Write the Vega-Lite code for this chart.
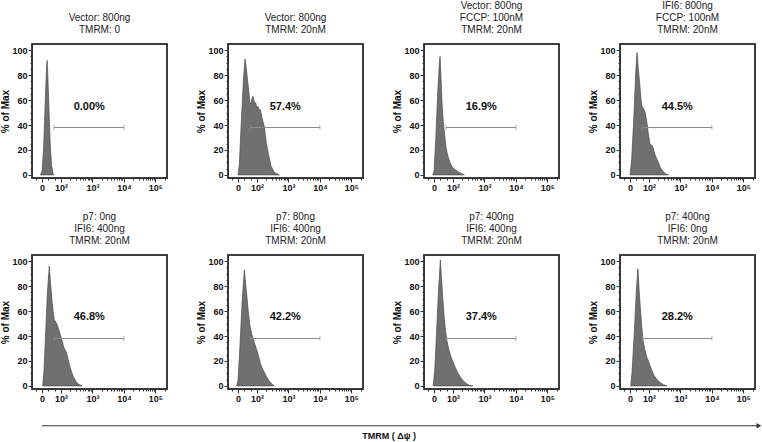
{
"$schema": "https://vega.github.io/schema/vega-lite/v6.json",
"padding": {"left": 0, "top": 0, "right": 0, "bottom": 0},
"background": "white",
"title": {"text": "TMRM ( Δψ )", "orient": "bottom", "anchor": "middle", "fontSize": 9, "fontWeight": "bold", "color": "#111", "offset": 3, "dx": 8},
"datasets": {
"hist": [
{"p":1,"u":-0.05,"y":0},{"p":1,"u":0.0,"y":3},{"p":1,"u":0.05,"y":22},{"p":1,"u":0.1,"y":58},{"p":1,"u":0.14,"y":85},{"p":1,"u":0.16,"y":92},{"p":1,"u":0.18,"y":82},{"p":1,"u":0.22,"y":52},{"p":1,"u":0.26,"y":24},{"p":1,"u":0.3,"y":8},{"p":1,"u":0.35,"y":1},{"p":1,"u":0.38,"y":0},
{"p":2,"u":0.0,"y":0},{"p":2,"u":0.04,"y":8},{"p":2,"u":0.1,"y":41},{"p":2,"u":0.17,"y":76},{"p":2,"u":0.22,"y":93},{"p":2,"u":0.25,"y":88},{"p":2,"u":0.29,"y":79},{"p":2,"u":0.34,"y":67},{"p":2,"u":0.38,"y":58},{"p":2,"u":0.41,"y":57},{"p":2,"u":0.44,"y":61},{"p":2,"u":0.47,"y":63},{"p":2,"u":0.49,"y":62},{"p":2,"u":0.53,"y":57},{"p":2,"u":0.56,"y":58},{"p":2,"u":0.59,"y":54},{"p":2,"u":0.63,"y":55},{"p":2,"u":0.66,"y":53},{"p":2,"u":0.71,"y":52},{"p":2,"u":0.76,"y":46},{"p":2,"u":0.8,"y":42},{"p":2,"u":0.84,"y":38},{"p":2,"u":0.89,"y":27},{"p":2,"u":0.96,"y":17},{"p":2,"u":1.05,"y":7},{"p":2,"u":1.15,"y":2},{"p":2,"u":1.31,"y":0},
{"p":3,"u":-0.04,"y":0},{"p":3,"u":0.0,"y":3},{"p":3,"u":0.06,"y":32},{"p":3,"u":0.12,"y":68},{"p":3,"u":0.17,"y":90},{"p":3,"u":0.19,"y":95},{"p":3,"u":0.22,"y":78},{"p":3,"u":0.25,"y":59},{"p":3,"u":0.28,"y":47},{"p":3,"u":0.31,"y":38},{"p":3,"u":0.35,"y":29},{"p":3,"u":0.38,"y":22},{"p":3,"u":0.43,"y":16},{"p":3,"u":0.49,"y":11},{"p":3,"u":0.56,"y":7},{"p":3,"u":0.65,"y":4.5},{"p":3,"u":0.8,"y":2},{"p":3,"u":0.96,"y":0},
{"p":4,"u":0.0,"y":0},{"p":4,"u":0.05,"y":12},{"p":4,"u":0.12,"y":46},{"p":4,"u":0.18,"y":82},{"p":4,"u":0.22,"y":98},{"p":4,"u":0.26,"y":86},{"p":4,"u":0.31,"y":72},{"p":4,"u":0.35,"y":60},{"p":4,"u":0.38,"y":55},{"p":4,"u":0.43,"y":53},{"p":4,"u":0.47,"y":51},{"p":4,"u":0.51,"y":46},{"p":4,"u":0.54,"y":41},{"p":4,"u":0.58,"y":33},{"p":4,"u":0.63,"y":25},{"p":4,"u":0.68,"y":24},{"p":4,"u":0.73,"y":22},{"p":4,"u":0.78,"y":17},{"p":4,"u":0.83,"y":14},{"p":4,"u":0.9,"y":10},{"p":4,"u":0.96,"y":6},{"p":4,"u":1.04,"y":3},{"p":4,"u":1.12,"y":1},{"p":4,"u":1.22,"y":0},
{"p":5,"u":0.02,"y":0},{"p":5,"u":0.06,"y":12},{"p":5,"u":0.11,"y":40},{"p":5,"u":0.17,"y":75},{"p":5,"u":0.23,"y":96},{"p":5,"u":0.27,"y":82},{"p":5,"u":0.32,"y":67},{"p":5,"u":0.36,"y":58},{"p":5,"u":0.39,"y":53},{"p":5,"u":0.44,"y":51},{"p":5,"u":0.48,"y":49},{"p":5,"u":0.53,"y":45},{"p":5,"u":0.58,"y":41},{"p":5,"u":0.64,"y":36},{"p":5,"u":0.69,"y":31},{"p":5,"u":0.73,"y":29},{"p":5,"u":0.77,"y":27},{"p":5,"u":0.83,"y":21},{"p":5,"u":0.88,"y":16},{"p":5,"u":0.94,"y":11},{"p":5,"u":1.0,"y":7},{"p":5,"u":1.08,"y":3.5},{"p":5,"u":1.16,"y":1.3},{"p":5,"u":1.27,"y":0},
{"p":6,"u":-0.04,"y":0},{"p":6,"u":0.0,"y":5},{"p":6,"u":0.06,"y":32},{"p":6,"u":0.13,"y":68},{"p":6,"u":0.2,"y":93},{"p":6,"u":0.24,"y":82},{"p":6,"u":0.29,"y":69},{"p":6,"u":0.33,"y":58},{"p":6,"u":0.38,"y":48},{"p":6,"u":0.43,"y":42},{"p":6,"u":0.49,"y":37},{"p":6,"u":0.54,"y":33},{"p":6,"u":0.59,"y":29},{"p":6,"u":0.64,"y":25},{"p":6,"u":0.7,"y":19},{"p":6,"u":0.74,"y":16},{"p":6,"u":0.79,"y":13},{"p":6,"u":0.84,"y":10.5},{"p":6,"u":0.91,"y":7},{"p":6,"u":0.99,"y":4},{"p":6,"u":1.07,"y":1.5},{"p":6,"u":1.15,"y":0},
{"p":7,"u":-0.03,"y":0},{"p":7,"u":0.02,"y":12},{"p":7,"u":0.08,"y":43},{"p":7,"u":0.14,"y":76},{"p":7,"u":0.2,"y":101},{"p":7,"u":0.24,"y":85},{"p":7,"u":0.28,"y":69},{"p":7,"u":0.32,"y":56},{"p":7,"u":0.36,"y":45},{"p":7,"u":0.41,"y":36},{"p":7,"u":0.47,"y":29},{"p":7,"u":0.53,"y":24},{"p":7,"u":0.59,"y":20},{"p":7,"u":0.67,"y":15},{"p":7,"u":0.75,"y":10.7},{"p":7,"u":0.84,"y":7},{"p":7,"u":0.93,"y":4},{"p":7,"u":1.02,"y":2},{"p":7,"u":1.12,"y":0.5},{"p":7,"u":1.23,"y":0},
{"p":8,"u":0.02,"y":0},{"p":8,"u":0.06,"y":10},{"p":8,"u":0.14,"y":45},{"p":8,"u":0.2,"y":77},{"p":8,"u":0.25,"y":94},{"p":8,"u":0.29,"y":76},{"p":8,"u":0.33,"y":61},{"p":8,"u":0.37,"y":48},{"p":8,"u":0.41,"y":37},{"p":8,"u":0.46,"y":30},{"p":8,"u":0.52,"y":24},{"p":8,"u":0.58,"y":20},{"p":8,"u":0.64,"y":16},{"p":8,"u":0.7,"y":12},{"p":8,"u":0.77,"y":8},{"p":8,"u":0.86,"y":5},{"p":8,"u":0.96,"y":2.6},{"p":8,"u":1.06,"y":1},{"p":8,"u":1.17,"y":0}
],
"gates": [
{"p":1,"u":0.38,"u2":2.6,"y":38},{"p":2,"u":0.38,"u2":2.6,"y":38},{"p":3,"u":0.38,"u2":2.6,"y":38},{"p":4,"u":0.38,"u2":2.6,"y":38},
{"p":5,"u":0.39,"u2":2.6,"y":38},{"p":6,"u":0.39,"u2":2.6,"y":38},{"p":7,"u":0.39,"u2":2.6,"y":38},{"p":8,"u":0.39,"u2":2.6,"y":38}
],
"caps": [
{"p":1,"u":0.38,"y":38},{"p":1,"u":2.6,"y":38},{"p":2,"u":0.38,"y":38},{"p":2,"u":2.6,"y":38},{"p":3,"u":0.38,"y":38},{"p":3,"u":2.6,"y":38},{"p":4,"u":0.38,"y":38},{"p":4,"u":2.6,"y":38},
{"p":5,"u":0.39,"y":38},{"p":5,"u":2.6,"y":38},{"p":6,"u":0.39,"y":38},{"p":6,"u":2.6,"y":38},{"p":7,"u":0.39,"y":38},{"p":7,"u":2.6,"y":38},{"p":8,"u":0.39,"y":38},{"p":8,"u":2.6,"y":38}
],
"labels": [
{"p":1,"u":1.5,"y":54.5,"label":"0.00%"},{"p":2,"u":1.5,"y":54.5,"label":"57.4%"},{"p":3,"u":1.5,"y":54.5,"label":"16.9%"},{"p":4,"u":1.5,"y":54.5,"label":"44.5%"},
{"p":5,"u":1.5,"y":55,"label":"46.8%"},{"p":6,"u":1.5,"y":55,"label":"42.2%"},{"p":7,"u":1.5,"y":55,"label":"37.4%"},{"p":8,"u":1.5,"y":55,"label":"28.2%"}
],
"arrow": [{"u":0.0,"u2":22.72,"y":-32}],
"arrowhead": [{"u":22.78,"y":-32}]
},
"columns": 4,
"spacing": {"row": 77, "column": 61},
"bounds": "flush",
"concat": [
{"title": {"text": ["Vector: 800ng", "TMRM: 0"]}, "width": 135, "height": 134, "view": {"stroke": "#333", "strokeWidth": 1.5},
 "encoding": {
  "x": {"field": "u", "type": "quantitative", "scale": {"domain": [-0.32, 3.97], "nice": false, "zero": false}, "axis": {"title": null, "values": [-0.2,0,0.2,0.4,0.6,0.901,1.077,1.202,1.299,1.378,1.445,1.503,1.554,1.6,1.901,2.077,2.202,2.299,2.378,2.445,2.503,2.554,2.6,2.901,3.077,3.202,3.299,3.378,3.445,3.503,3.554,3.6,3.901], "labelExpr": "datum.value == 0 ? '0' : datum.value == 0.6 ? '10²' : datum.value == 1.6 ? '10³' : datum.value == 2.6 ? '10⁴' : datum.value == 3.6 ? '10⁵' : ''", "tickSize": {"condition": {"test": "indexof([0,0.6,1.6,2.6,3.6], datum.value) >= 0", "value": 4}, "value": 2}, "labelOverlap": false, "labelFlush": false}},
  "y": {"field": "y", "type": "quantitative", "scale": {"domain": [-2.5, 105], "nice": false, "zero": false}, "axis": {"title": "% of Max", "values": [0,5,10,15,20,25,30,35,40,45,50,55,60,65,70,75,80,85,90,95,100], "labelExpr": "datum.value % 20 == 0 ? datum.label : ''", "tickSize": {"condition": {"test": "datum.value % 20 == 0", "value": 4}, "value": 2}, "labelOverlap": false}}},
 "layer": [
 {"data": {"name": "hist"}, "transform": [{"filter": "datum.p == 1"}], "mark": {"type": "area", "fill": "#707070", "stroke": "#4a4a4a", "strokeWidth": 0.7}},
 {"data": {"name": "gates"}, "transform": [{"filter": "datum.p == 1"}], "mark": {"type": "rule", "color": "#8c8c8c", "strokeWidth": 1}, "encoding": {"x2": {"field": "u2"}}},
 {"data": {"name": "caps"}, "transform": [{"filter": "datum.p == 1"}], "mark": {"type": "tick", "orient": "vertical", "color": "#8c8c8c", "size": 5, "thickness": 1}},
 {"data": {"name": "labels"}, "transform": [{"filter": "datum.p == 1"}], "mark": {"type": "text", "fontWeight": "bold", "fontSize": 11, "color": "#111"}, "encoding": {"text": {"field": "label"}}},
 {"data": {"name": "labels"}, "transform": [{"filter": "datum.p == 1"}], "mark": {"type": "rect", "fill": "white", "fillOpacity": 0, "stroke": "#333", "strokeWidth": 1.5, "clip": false}, "encoding": {"x": {"value": 0}, "x2": {"value": "width"}, "y": {"value": 0}, "y2": {"value": "height"}}}
]},
{"title": {"text": ["Vector: 800ng", "TMRM: 20nM"]}, "width": 135, "height": 134, "view": {"stroke": "#333", "strokeWidth": 1.5},
 "encoding": {
  "x": {"field": "u", "type": "quantitative", "scale": {"domain": [-0.32, 3.97], "nice": false, "zero": false}, "axis": {"title": null, "values": [-0.2,0,0.2,0.4,0.6,0.901,1.077,1.202,1.299,1.378,1.445,1.503,1.554,1.6,1.901,2.077,2.202,2.299,2.378,2.445,2.503,2.554,2.6,2.901,3.077,3.202,3.299,3.378,3.445,3.503,3.554,3.6,3.901], "labelExpr": "datum.value == 0 ? '0' : datum.value == 0.6 ? '10²' : datum.value == 1.6 ? '10³' : datum.value == 2.6 ? '10⁴' : datum.value == 3.6 ? '10⁵' : ''", "tickSize": {"condition": {"test": "indexof([0,0.6,1.6,2.6,3.6], datum.value) >= 0", "value": 4}, "value": 2}, "labelOverlap": false, "labelFlush": false}},
  "y": {"field": "y", "type": "quantitative", "scale": {"domain": [-2.5, 105], "nice": false, "zero": false}, "axis": {"title": "% of Max", "values": [0,5,10,15,20,25,30,35,40,45,50,55,60,65,70,75,80,85,90,95,100], "labelExpr": "datum.value % 20 == 0 ? datum.label : ''", "tickSize": {"condition": {"test": "datum.value % 20 == 0", "value": 4}, "value": 2}, "labelOverlap": false}}},
 "layer": [
 {"data": {"name": "hist"}, "transform": [{"filter": "datum.p == 2"}], "mark": {"type": "area", "fill": "#707070", "stroke": "#4a4a4a", "strokeWidth": 0.7}},
 {"data": {"name": "gates"}, "transform": [{"filter": "datum.p == 2"}], "mark": {"type": "rule", "color": "#8c8c8c", "strokeWidth": 1}, "encoding": {"x2": {"field": "u2"}}},
 {"data": {"name": "caps"}, "transform": [{"filter": "datum.p == 2"}], "mark": {"type": "tick", "orient": "vertical", "color": "#8c8c8c", "size": 5, "thickness": 1}},
 {"data": {"name": "labels"}, "transform": [{"filter": "datum.p == 2"}], "mark": {"type": "text", "fontWeight": "bold", "fontSize": 11, "color": "#111"}, "encoding": {"text": {"field": "label"}}},
 {"data": {"name": "labels"}, "transform": [{"filter": "datum.p == 2"}], "mark": {"type": "rect", "fill": "white", "fillOpacity": 0, "stroke": "#333", "strokeWidth": 1.5, "clip": false}, "encoding": {"x": {"value": 0}, "x2": {"value": "width"}, "y": {"value": 0}, "y2": {"value": "height"}}}
]},
{"title": {"text": ["Vector: 800ng", "FCCP: 100nM", "TMRM: 20nM"]}, "width": 135, "height": 134, "view": {"stroke": "#333", "strokeWidth": 1.5},
 "encoding": {
  "x": {"field": "u", "type": "quantitative", "scale": {"domain": [-0.32, 3.97], "nice": false, "zero": false}, "axis": {"title": null, "values": [-0.2,0,0.2,0.4,0.6,0.901,1.077,1.202,1.299,1.378,1.445,1.503,1.554,1.6,1.901,2.077,2.202,2.299,2.378,2.445,2.503,2.554,2.6,2.901,3.077,3.202,3.299,3.378,3.445,3.503,3.554,3.6,3.901], "labelExpr": "datum.value == 0 ? '0' : datum.value == 0.6 ? '10²' : datum.value == 1.6 ? '10³' : datum.value == 2.6 ? '10⁴' : datum.value == 3.6 ? '10⁵' : ''", "tickSize": {"condition": {"test": "indexof([0,0.6,1.6,2.6,3.6], datum.value) >= 0", "value": 4}, "value": 2}, "labelOverlap": false, "labelFlush": false}},
  "y": {"field": "y", "type": "quantitative", "scale": {"domain": [-2.5, 105], "nice": false, "zero": false}, "axis": {"title": "% of Max", "values": [0,5,10,15,20,25,30,35,40,45,50,55,60,65,70,75,80,85,90,95,100], "labelExpr": "datum.value % 20 == 0 ? datum.label : ''", "tickSize": {"condition": {"test": "datum.value % 20 == 0", "value": 4}, "value": 2}, "labelOverlap": false}}},
 "layer": [
 {"data": {"name": "hist"}, "transform": [{"filter": "datum.p == 3"}], "mark": {"type": "area", "fill": "#707070", "stroke": "#4a4a4a", "strokeWidth": 0.7}},
 {"data": {"name": "gates"}, "transform": [{"filter": "datum.p == 3"}], "mark": {"type": "rule", "color": "#8c8c8c", "strokeWidth": 1}, "encoding": {"x2": {"field": "u2"}}},
 {"data": {"name": "caps"}, "transform": [{"filter": "datum.p == 3"}], "mark": {"type": "tick", "orient": "vertical", "color": "#8c8c8c", "size": 5, "thickness": 1}},
 {"data": {"name": "labels"}, "transform": [{"filter": "datum.p == 3"}], "mark": {"type": "text", "fontWeight": "bold", "fontSize": 11, "color": "#111"}, "encoding": {"text": {"field": "label"}}},
 {"data": {"name": "labels"}, "transform": [{"filter": "datum.p == 3"}], "mark": {"type": "rect", "fill": "white", "fillOpacity": 0, "stroke": "#333", "strokeWidth": 1.5, "clip": false}, "encoding": {"x": {"value": 0}, "x2": {"value": "width"}, "y": {"value": 0}, "y2": {"value": "height"}}}
]},
{"title": {"text": ["IFI6: 800ng", "FCCP: 100nM", "TMRM: 20nM"]}, "width": 135, "height": 134, "view": {"stroke": "#333", "strokeWidth": 1.5},
 "encoding": {
  "x": {"field": "u", "type": "quantitative", "scale": {"domain": [-0.32, 3.97], "nice": false, "zero": false}, "axis": {"title": null, "values": [-0.2,0,0.2,0.4,0.6,0.901,1.077,1.202,1.299,1.378,1.445,1.503,1.554,1.6,1.901,2.077,2.202,2.299,2.378,2.445,2.503,2.554,2.6,2.901,3.077,3.202,3.299,3.378,3.445,3.503,3.554,3.6,3.901], "labelExpr": "datum.value == 0 ? '0' : datum.value == 0.6 ? '10²' : datum.value == 1.6 ? '10³' : datum.value == 2.6 ? '10⁴' : datum.value == 3.6 ? '10⁵' : ''", "tickSize": {"condition": {"test": "indexof([0,0.6,1.6,2.6,3.6], datum.value) >= 0", "value": 4}, "value": 2}, "labelOverlap": false, "labelFlush": false}},
  "y": {"field": "y", "type": "quantitative", "scale": {"domain": [-2.5, 105], "nice": false, "zero": false}, "axis": {"title": "% of Max", "values": [0,5,10,15,20,25,30,35,40,45,50,55,60,65,70,75,80,85,90,95,100], "labelExpr": "datum.value % 20 == 0 ? datum.label : ''", "tickSize": {"condition": {"test": "datum.value % 20 == 0", "value": 4}, "value": 2}, "labelOverlap": false}}},
 "layer": [
 {"data": {"name": "hist"}, "transform": [{"filter": "datum.p == 4"}], "mark": {"type": "area", "fill": "#707070", "stroke": "#4a4a4a", "strokeWidth": 0.7}},
 {"data": {"name": "gates"}, "transform": [{"filter": "datum.p == 4"}], "mark": {"type": "rule", "color": "#8c8c8c", "strokeWidth": 1}, "encoding": {"x2": {"field": "u2"}}},
 {"data": {"name": "caps"}, "transform": [{"filter": "datum.p == 4"}], "mark": {"type": "tick", "orient": "vertical", "color": "#8c8c8c", "size": 5, "thickness": 1}},
 {"data": {"name": "labels"}, "transform": [{"filter": "datum.p == 4"}], "mark": {"type": "text", "fontWeight": "bold", "fontSize": 11, "color": "#111"}, "encoding": {"text": {"field": "label"}}},
 {"data": {"name": "labels"}, "transform": [{"filter": "datum.p == 4"}], "mark": {"type": "rect", "fill": "white", "fillOpacity": 0, "stroke": "#333", "strokeWidth": 1.5, "clip": false}, "encoding": {"x": {"value": 0}, "x2": {"value": "width"}, "y": {"value": 0}, "y2": {"value": "height"}}}
]},
{"title": {"text": ["p7: 0ng", "IFI6: 400ng", "TMRM: 20nM"]}, "width": 135, "height": 134, "view": {"stroke": "#333", "strokeWidth": 1.5},
 "encoding": {
  "x": {"field": "u", "type": "quantitative", "scale": {"domain": [-0.32, 3.97], "nice": false, "zero": false}, "axis": {"title": null, "values": [-0.2,0,0.2,0.4,0.6,0.901,1.077,1.202,1.299,1.378,1.445,1.503,1.554,1.6,1.901,2.077,2.202,2.299,2.378,2.445,2.503,2.554,2.6,2.901,3.077,3.202,3.299,3.378,3.445,3.503,3.554,3.6,3.901], "labelExpr": "datum.value == 0 ? '0' : datum.value == 0.6 ? '10²' : datum.value == 1.6 ? '10³' : datum.value == 2.6 ? '10⁴' : datum.value == 3.6 ? '10⁵' : ''", "tickSize": {"condition": {"test": "indexof([0,0.6,1.6,2.6,3.6], datum.value) >= 0", "value": 4}, "value": 2}, "labelOverlap": false, "labelFlush": false}},
  "y": {"field": "y", "type": "quantitative", "scale": {"domain": [-2.5, 105], "nice": false, "zero": false}, "axis": {"title": "% of Max", "values": [0,5,10,15,20,25,30,35,40,45,50,55,60,65,70,75,80,85,90,95,100], "labelExpr": "datum.value % 20 == 0 ? datum.label : ''", "tickSize": {"condition": {"test": "datum.value % 20 == 0", "value": 4}, "value": 2}, "labelOverlap": false}}},
 "layer": [
 {"data": {"name": "hist"}, "transform": [{"filter": "datum.p == 5"}], "mark": {"type": "area", "fill": "#707070", "stroke": "#4a4a4a", "strokeWidth": 0.7}},
 {"data": {"name": "gates"}, "transform": [{"filter": "datum.p == 5"}], "mark": {"type": "rule", "color": "#8c8c8c", "strokeWidth": 1}, "encoding": {"x2": {"field": "u2"}}},
 {"data": {"name": "caps"}, "transform": [{"filter": "datum.p == 5"}], "mark": {"type": "tick", "orient": "vertical", "color": "#8c8c8c", "size": 5, "thickness": 1}},
 {"data": {"name": "labels"}, "transform": [{"filter": "datum.p == 5"}], "mark": {"type": "text", "fontWeight": "bold", "fontSize": 11, "color": "#111"}, "encoding": {"text": {"field": "label"}}},
 {"data": {"name": "labels"}, "transform": [{"filter": "datum.p == 5"}], "mark": {"type": "rect", "fill": "white", "fillOpacity": 0, "stroke": "#333", "strokeWidth": 1.5, "clip": false}, "encoding": {"x": {"value": 0}, "x2": {"value": "width"}, "y": {"value": 0}, "y2": {"value": "height"}}},
 {"data": {"name": "arrow"}, "mark": {"type": "rule", "color": "#333", "strokeWidth": 1, "clip": false}, "encoding": {"x2": {"field": "u2"}}},
 {"data": {"name": "arrowhead"}, "mark": {"type": "point", "shape": "triangle-right", "filled": true, "color": "#333", "size": 30, "opacity": 1, "clip": false}}
]},
{"title": {"text": ["p7: 80ng", "IFI6: 400ng", "TMRM: 20nM"]}, "width": 135, "height": 134, "view": {"stroke": "#333", "strokeWidth": 1.5},
 "encoding": {
  "x": {"field": "u", "type": "quantitative", "scale": {"domain": [-0.32, 3.97], "nice": false, "zero": false}, "axis": {"title": null, "values": [-0.2,0,0.2,0.4,0.6,0.901,1.077,1.202,1.299,1.378,1.445,1.503,1.554,1.6,1.901,2.077,2.202,2.299,2.378,2.445,2.503,2.554,2.6,2.901,3.077,3.202,3.299,3.378,3.445,3.503,3.554,3.6,3.901], "labelExpr": "datum.value == 0 ? '0' : datum.value == 0.6 ? '10²' : datum.value == 1.6 ? '10³' : datum.value == 2.6 ? '10⁴' : datum.value == 3.6 ? '10⁵' : ''", "tickSize": {"condition": {"test": "indexof([0,0.6,1.6,2.6,3.6], datum.value) >= 0", "value": 4}, "value": 2}, "labelOverlap": false, "labelFlush": false}},
  "y": {"field": "y", "type": "quantitative", "scale": {"domain": [-2.5, 105], "nice": false, "zero": false}, "axis": {"title": "% of Max", "values": [0,5,10,15,20,25,30,35,40,45,50,55,60,65,70,75,80,85,90,95,100], "labelExpr": "datum.value % 20 == 0 ? datum.label : ''", "tickSize": {"condition": {"test": "datum.value % 20 == 0", "value": 4}, "value": 2}, "labelOverlap": false}}},
 "layer": [
 {"data": {"name": "hist"}, "transform": [{"filter": "datum.p == 6"}], "mark": {"type": "area", "fill": "#707070", "stroke": "#4a4a4a", "strokeWidth": 0.7}},
 {"data": {"name": "gates"}, "transform": [{"filter": "datum.p == 6"}], "mark": {"type": "rule", "color": "#8c8c8c", "strokeWidth": 1}, "encoding": {"x2": {"field": "u2"}}},
 {"data": {"name": "caps"}, "transform": [{"filter": "datum.p == 6"}], "mark": {"type": "tick", "orient": "vertical", "color": "#8c8c8c", "size": 5, "thickness": 1}},
 {"data": {"name": "labels"}, "transform": [{"filter": "datum.p == 6"}], "mark": {"type": "text", "fontWeight": "bold", "fontSize": 11, "color": "#111"}, "encoding": {"text": {"field": "label"}}},
 {"data": {"name": "labels"}, "transform": [{"filter": "datum.p == 6"}], "mark": {"type": "rect", "fill": "white", "fillOpacity": 0, "stroke": "#333", "strokeWidth": 1.5, "clip": false}, "encoding": {"x": {"value": 0}, "x2": {"value": "width"}, "y": {"value": 0}, "y2": {"value": "height"}}}
]},
{"title": {"text": ["p7: 400ng", "IFI6: 400ng", "TMRM: 20nM"]}, "width": 135, "height": 134, "view": {"stroke": "#333", "strokeWidth": 1.5},
 "encoding": {
  "x": {"field": "u", "type": "quantitative", "scale": {"domain": [-0.32, 3.97], "nice": false, "zero": false}, "axis": {"title": null, "values": [-0.2,0,0.2,0.4,0.6,0.901,1.077,1.202,1.299,1.378,1.445,1.503,1.554,1.6,1.901,2.077,2.202,2.299,2.378,2.445,2.503,2.554,2.6,2.901,3.077,3.202,3.299,3.378,3.445,3.503,3.554,3.6,3.901], "labelExpr": "datum.value == 0 ? '0' : datum.value == 0.6 ? '10²' : datum.value == 1.6 ? '10³' : datum.value == 2.6 ? '10⁴' : datum.value == 3.6 ? '10⁵' : ''", "tickSize": {"condition": {"test": "indexof([0,0.6,1.6,2.6,3.6], datum.value) >= 0", "value": 4}, "value": 2}, "labelOverlap": false, "labelFlush": false}},
  "y": {"field": "y", "type": "quantitative", "scale": {"domain": [-2.5, 105], "nice": false, "zero": false}, "axis": {"title": "% of Max", "values": [0,5,10,15,20,25,30,35,40,45,50,55,60,65,70,75,80,85,90,95,100], "labelExpr": "datum.value % 20 == 0 ? datum.label : ''", "tickSize": {"condition": {"test": "datum.value % 20 == 0", "value": 4}, "value": 2}, "labelOverlap": false}}},
 "layer": [
 {"data": {"name": "hist"}, "transform": [{"filter": "datum.p == 7"}], "mark": {"type": "area", "fill": "#707070", "stroke": "#4a4a4a", "strokeWidth": 0.7}},
 {"data": {"name": "gates"}, "transform": [{"filter": "datum.p == 7"}], "mark": {"type": "rule", "color": "#8c8c8c", "strokeWidth": 1}, "encoding": {"x2": {"field": "u2"}}},
 {"data": {"name": "caps"}, "transform": [{"filter": "datum.p == 7"}], "mark": {"type": "tick", "orient": "vertical", "color": "#8c8c8c", "size": 5, "thickness": 1}},
 {"data": {"name": "labels"}, "transform": [{"filter": "datum.p == 7"}], "mark": {"type": "text", "fontWeight": "bold", "fontSize": 11, "color": "#111"}, "encoding": {"text": {"field": "label"}}},
 {"data": {"name": "labels"}, "transform": [{"filter": "datum.p == 7"}], "mark": {"type": "rect", "fill": "white", "fillOpacity": 0, "stroke": "#333", "strokeWidth": 1.5, "clip": false}, "encoding": {"x": {"value": 0}, "x2": {"value": "width"}, "y": {"value": 0}, "y2": {"value": "height"}}}
]},
{"title": {"text": ["p7: 400ng", "IFI6: 0ng", "TMRM: 20nM"]}, "width": 135, "height": 134, "view": {"stroke": "#333", "strokeWidth": 1.5},
 "encoding": {
  "x": {"field": "u", "type": "quantitative", "scale": {"domain": [-0.32, 3.97], "nice": false, "zero": false}, "axis": {"title": null, "values": [-0.2,0,0.2,0.4,0.6,0.901,1.077,1.202,1.299,1.378,1.445,1.503,1.554,1.6,1.901,2.077,2.202,2.299,2.378,2.445,2.503,2.554,2.6,2.901,3.077,3.202,3.299,3.378,3.445,3.503,3.554,3.6,3.901], "labelExpr": "datum.value == 0 ? '0' : datum.value == 0.6 ? '10²' : datum.value == 1.6 ? '10³' : datum.value == 2.6 ? '10⁴' : datum.value == 3.6 ? '10⁵' : ''", "tickSize": {"condition": {"test": "indexof([0,0.6,1.6,2.6,3.6], datum.value) >= 0", "value": 4}, "value": 2}, "labelOverlap": false, "labelFlush": false}},
  "y": {"field": "y", "type": "quantitative", "scale": {"domain": [-2.5, 105], "nice": false, "zero": false}, "axis": {"title": "% of Max", "values": [0,5,10,15,20,25,30,35,40,45,50,55,60,65,70,75,80,85,90,95,100], "labelExpr": "datum.value % 20 == 0 ? datum.label : ''", "tickSize": {"condition": {"test": "datum.value % 20 == 0", "value": 4}, "value": 2}, "labelOverlap": false}}},
 "layer": [
 {"data": {"name": "hist"}, "transform": [{"filter": "datum.p == 8"}], "mark": {"type": "area", "fill": "#707070", "stroke": "#4a4a4a", "strokeWidth": 0.7}},
 {"data": {"name": "gates"}, "transform": [{"filter": "datum.p == 8"}], "mark": {"type": "rule", "color": "#8c8c8c", "strokeWidth": 1}, "encoding": {"x2": {"field": "u2"}}},
 {"data": {"name": "caps"}, "transform": [{"filter": "datum.p == 8"}], "mark": {"type": "tick", "orient": "vertical", "color": "#8c8c8c", "size": 5, "thickness": 1}},
 {"data": {"name": "labels"}, "transform": [{"filter": "datum.p == 8"}], "mark": {"type": "text", "fontWeight": "bold", "fontSize": 11, "color": "#111"}, "encoding": {"text": {"field": "label"}}},
 {"data": {"name": "labels"}, "transform": [{"filter": "datum.p == 8"}], "mark": {"type": "rect", "fill": "white", "fillOpacity": 0, "stroke": "#333", "strokeWidth": 1.5, "clip": false}, "encoding": {"x": {"value": 0}, "x2": {"value": "width"}, "y": {"value": 0}, "y2": {"value": "height"}}}
]}
],
"config": {
 "font": "Liberation Sans",
 "view": {"stroke": "#333", "strokeWidth": 1.5},
 "axis": {"grid": false, "domainColor": "#333", "tickColor": "#333", "labelColor": "#111", "labelFontSize": 9, "labelFontWeight": "bold", "labelPadding": 1, "titleFontSize": 10, "titleFontWeight": "bold", "titleColor": "#111", "titlePadding": 1},
 "title": {"fontSize": 10, "fontWeight": "normal", "anchor": "middle", "offset": 8, "color": "#222", "lineHeight": 12, "font": "Liberation Sans"}
}
}
